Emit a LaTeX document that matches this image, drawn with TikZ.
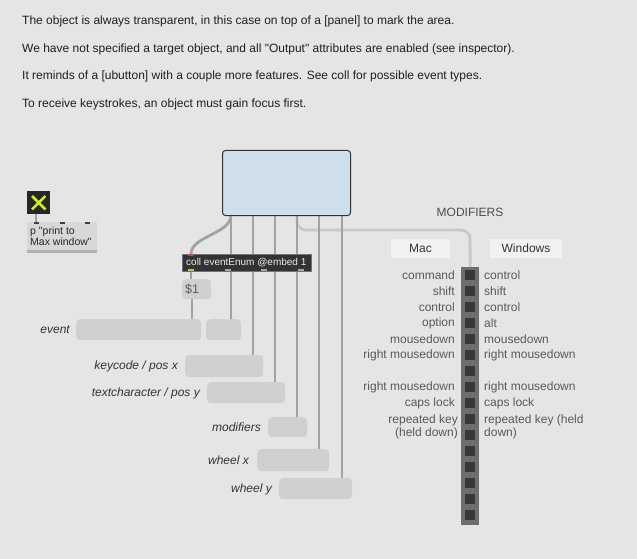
\documentclass[tikz,border=0pt]{standalone}
\usepackage{fontspec}
\setmainfont{Liberation Sans}[Ligatures=TeXOff]
\definecolor{bg}{HTML}{E5E5E5}
\definecolor{panelblue}{HTML}{CFDEEB}
\definecolor{boxgray}{HTML}{D0D0D0}
\definecolor{cablegray}{HTML}{A2A2A2}
\definecolor{cablelight}{HTML}{C8C8C8}
\definecolor{matgray}{HTML}{6E6E6E}
\definecolor{sqdark}{HTML}{383838}
\definecolor{labfill}{HTML}{F2F0F0}
\definecolor{collgray}{HTML}{333333}
\definecolor{xyellow}{HTML}{D6EE1E}
\definecolor{pgray}{HTML}{D8D8D8}
\begin{document}
\begin{tikzpicture}[x=1pt,y=-1pt,
  txt/.style={font=\fontsize{12}{14}\selectfont, text=black!88, inner sep=0pt, anchor=west},
  lab/.style={font=\fontsize{12}{14}\selectfont\itshape, text=black!80, inner sep=0pt, anchor=east},
  mlab/.style={font=\fontsize{12}{13.5}\selectfont, text=black!65, inner sep=0pt, anchor=east, align=right},
  wlab/.style={font=\fontsize{12}{13.5}\selectfont, text=black!65, inner sep=0pt, anchor=west, align=left},
  numbox/.style={fill=boxgray, rounded corners=4pt, inner sep=0pt, anchor=north west},
  cable/.style={draw=cablegray, line width=2.8pt},
  hdr/.style={fill=labfill, inner sep=0pt, font=\fontsize{12}{14}\selectfont, text=black!80},
]
\fill[bg] (0,0) rectangle (637,559);
\useasboundingbox (0,0) rectangle (637,559);

% top texts
\node[txt] (t1) at (22,21) {The object is always transparent, in this case on top of a [panel] to mark the area.};
\node[txt] (t2) at (22,49) {We have not specified a target object, and all "Output" attributes are enabled (see inspector).};
\node[txt] (t3) at (22,76) {It reminds of a [ubutton] with a couple more features. See coll for possible event types.};
\node[txt] (t4) at (22,104) {To receive keystrokes, an object must gain focus first.};

% outlet coordinates of the panel
\coordinate (o1) at (231,215);
\coordinate (o2) at (253,215);
\coordinate (o3) at (275,215);
\coordinate (o4) at (297,215);
\coordinate (o5) at (319,215);
\coordinate (o6) at (342,215);

% number boxes
\node[numbox, minimum width=125, minimum height=21] (ev) at (76,319) {};
\node[numbox, minimum width=35, minimum height=21] (evs) at (206,319) {};
\node[numbox, minimum width=78, minimum height=22] (kc) at (185,355) {};
\node[numbox, minimum width=78, minimum height=21] (tc) at (207,382) {};
\node[numbox, minimum width=39, minimum height=20] (md) at (268,417) {};
\node[numbox, minimum width=72, minimum height=22] (wx) at (257,449) {};
\node[numbox, minimum width=73, minimum height=21] (wy) at (279,478) {};

% labels
\node[lab] (lev) at (70,330) {event};
\node[lab] (lkc) at (178,366) {keycode / pos x};
\node[lab] (ltc) at (200,393) {textcharacter / pos y};
\node[lab] (lmd) at (261,427) {modifiers};
\node[lab] (lwx) at (249,460) {wheel x};
\node[lab] (lwy) at (272,489) {wheel y};

% matrix
\node[fill=matgray, minimum width=18, minimum height=258, anchor=north west, inner sep=0pt] (mx) at (461,267) {};
\foreach \i in {0,...,15} {
  \fill[sqdark] (465,{270+16*\i}) rectangle (475,{280+16*\i});
}

% modifier cable to matrix (light)
\draw[cable, draw=cablelight, rounded corners=9pt] (o4) -- (297,230) -- (470,230) -- (mx.north);

% $1 box
\node[numbox, minimum width=29, minimum height=20] (d1) at (182,279) {};
\node[font=\fontsize{12.5}{14}\selectfont, text=black!65, anchor=west, inner sep=0pt] (d1t) at ([xshift=3pt]d1.west) {\$1};

% cables
\coordinate (ci) at (191,254);
\coordinate (co1) at (191,271);
\coordinate (d1o) at (192,299);
\draw[cable] (o1) .. controls (231,234) and (191,236) .. (ci);
\draw[cable] (o1) -- (o1 |- evs.north);
\draw[cable] (o2) -- (o2 |- kc.north);
\draw[cable] (o3) -- (o3 |- tc.north);
\draw[cable] (o4) -- (o4 |- md.north);
\draw[cable] (o5) -- (o5 |- wx.north);
\draw[cable] (o6) -- (o6 |- wy.north);
\draw[cable] (co1) -- (co1 |- d1.north);
\draw[cable] (d1o) -- (d1o |- ev.north);

% panel
\node[draw=black!80, fill=panelblue, rounded corners=3pt, minimum width=128, minimum height=65, anchor=north west, line width=1pt, inner sep=0pt] (panel) at (222,150) {};

% coll
\node[fill=collgray, draw=black!55, minimum width=129, minimum height=17, anchor=north west, inner sep=0pt] (coll) at (182,254) {};
\node[font=\fontsize{10}{12}\selectfont, text=white!92!black, anchor=west, inner sep=0pt] (collt) at ([xshift=4pt,yshift=0.5pt]coll.west) {coll eventEnum @embed 1};
\fill[red!40!gray] (188,254) rectangle (194,256);
\fill[yellow!50!gray] (188,269) rectangle (194,271);
\fill[gray!70] (225,269) rectangle (231,271);
\fill[gray!70] (261,269) rectangle (267,271);
\fill[gray!70] (298,269) rectangle (304,271);

% toggle
\node[fill=black!85, minimum size=23, anchor=north west, inner sep=0pt] (tog) at (27,191) {};
\draw[xyellow, line width=2.6pt] ([shift={(5,5)}]tog.north west) -- ([shift={(-5,-5)}]tog.south east);
\draw[xyellow, line width=2.6pt] ([shift={(-5,5)}]tog.north east) -- ([shift={(5,-5)}]tog.south west);

% p object
\node[fill=pgray, minimum width=70, minimum height=31, anchor=north west, inner sep=0pt] (pobj) at (27,222) {};
\fill[black!30] (27,250) rectangle (97,253);
\coordinate (togo) at (36,214);
\draw[cable] (togo) -- (togo |- pobj.north);
\fill[black!75] (34,222) rectangle (39,224);
\fill[black!75] (60,222) rectangle (65,224);
\fill[black!75] (85,222) rectangle (90,224);
\node[font=\fontsize{10.5}{11}\selectfont, text=black!85, anchor=north west, align=left, inner sep=0pt] (ptxt) at (30,227) {p "print to\\Max window"};

% modifiers header
\node[font=\fontsize{12}{14}\selectfont, text=black!70, inner sep=0pt] (modh) at (470,212) {MODIFIERS};
\node[hdr, minimum width=59, minimum height=19] (mac) at (420.5,248.5) {Mac};
\node[hdr, minimum width=72, minimum height=19] (win) at (526,248.5) {Windows};

% mac labels
\node[mlab] (m1) at (455,275) {command};
\node[mlab] (m2) at (455,291) {shift};
\node[mlab] (m3) at (455,307) {control};
\node[mlab] (m4) at (455,323) {option};
\node[mlab] (m5) at (455,339) {mousedown};
\node[mlab] (m6) at (455,355) {right mousedown};
\node[mlab] (m7) at (455,387) {right mousedown};
\node[mlab] (m8) at (455,403) {caps lock};
\node[mlab] (m9) at (458,427) {repeated key\\(held down)};

% windows labels
\node[wlab] (w1) at (484,275) {control};
\node[wlab] (w2) at (484,291) {shift};
\node[wlab] (w3) at (484,307) {control};
\node[wlab] (w4) at (484,323) {alt};
\node[wlab] (w5) at (484,339) {mousedown};
\node[wlab] (w6) at (484,355) {right mousedown};
\node[wlab] (w7) at (484,387) {right mousedown};
\node[wlab] (w8) at (484,403) {caps lock};
\node[wlab] (w9) at (484,427) {repeated key (held\\down)};
\end{tikzpicture}
\end{document}
